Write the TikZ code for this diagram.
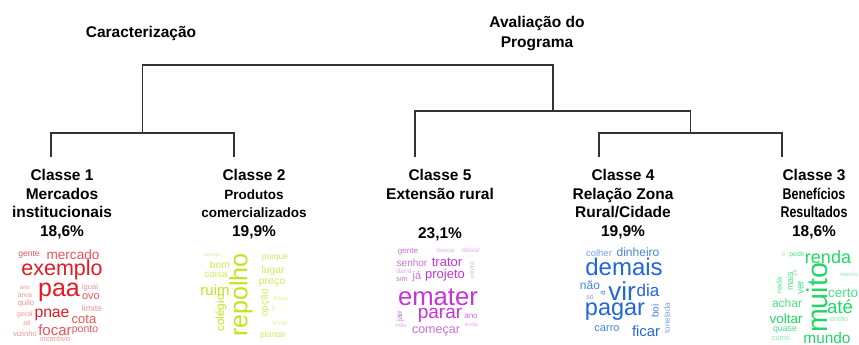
\documentclass[tikz,border=0pt]{standalone}
\usepackage{fontspec}
\setmainfont{Liberation Sans}
\usetikzlibrary{positioning}
\definecolor{rA}{RGB}{228,26,36}
\definecolor{rB}{RGB}{234,84,90}
\definecolor{rC}{RGB}{240,150,152}
\definecolor{yA}{RGB}{198,226,30}
\definecolor{yB}{RGB}{212,233,92}
\definecolor{yC}{RGB}{228,240,165}
\definecolor{mA}{RGB}{196,52,216}
\definecolor{mB}{RGB}{202,112,218}
\definecolor{mC}{RGB}{222,172,232}
\definecolor{bA}{RGB}{32,102,220}
\definecolor{bB}{RGB}{72,132,226}
\definecolor{bC}{RGB}{122,162,232}
\definecolor{gA}{RGB}{32,216,102}
\definecolor{gB}{RGB}{72,226,132}
\definecolor{gC}{RGB}{142,236,172}
\tikzstyle{hd}=[align=center, inner sep=0pt, font=\bfseries\fontsize{15.5}{20}\selectfont]
\tikzstyle{cl}=[align=center, inner sep=0pt, anchor=north, font=\bfseries\fontsize{15.5}{18.7}\selectfont]
\tikzstyle{wd}=[inner sep=0pt]
\tikzstyle{br}=[draw=black!80, line width=1.2pt]
\def\wfs#1{\fontsize{#1}{#1}\selectfont}
\def\sml#1{{\fontsize{13.5}{18.7}\selectfont #1}}
\def\nar#1{\scalebox{0.8}[1]{#1}}

\begin{document}
\begin{tikzpicture}[x=1pt, y=-1pt]
    \useasboundingbox [fill=white] (0,0) rectangle (859,345);

    \node [hd] (car) at (141,33) {Caracterização};
    \node [hd] (ava) at (537,34) {Avaliação do\\Programa};

    \coordinate (t1) at (51,157);
    \coordinate (t2) at (234,157);
    \coordinate (t5) at (415,157);
    \coordinate (t4) at (599,157);
    \coordinate (t3) at (782,157);
    \coordinate (m12) at (142.5,133);
    \coordinate (m43) at (690.5,133);
    \coordinate (m543) at (553,111);

    \draw [br] (t1) -- ++(0,-24) -| (t2);
    \draw [br] (t4) -- ++(0,-24) -| (t3);
    \draw [br] (t5) -- ++(0,-46) -| (m43);
    \draw [br] (m12) -- ++(0,-68) -| (m543);

    \node [cl] (c1) at (62,169)  {Classe 1\\Mercados\\institucionais\\18,6\%};
    \node [cl] (c2) at (254,169) {Classe 2\\\sml{Produtos}\\\sml{comercializados}\\19,9\%};
    \node [cl] (c5) at (440,169) {Classe 5\\Extensão rural\\[21pt]23,1\%};
    \node [cl] (c4) at (623,169) {Classe 4\\Relação Zona\\Rural/Cidade\\19,9\%};
    \node [cl] (c3) at (814,169) {Classe 3\\\nar{Benefícios}\\\nar{Resultados}\\18,6\%};

    % clouds: word/x/y/size/colour/angle
    \foreach \w/\x/\y/\s/\c/\r [count=\i] in {gente/29/255/8.5/rB/0, mercado/73/255/13.6/rB/0,
        exemplo/62/270/21.5/rA/0, paa/59/292/25/rA/0, ano/25/288/6/rC/0, área/25/295/7/rC/0,
        quilo/26/303/8/rC/0, geral/25/315/7/rC/0, ali/27/323/7/rC/0, vizinho/25/334/7.7/rC/0,
        igual/90/288/7.6/rC/0, ovo/91/297/11/rB/0, limite/92/308/8.6/rC/0, pnae/52/315/15.7/rA/0,
        cota/84/319/13/rB/0, focar/55/330/15/rB/0, ponto/85/330/10.5/rB/0, incentivo/55/339/7.6/rC/0}
      \node [wd, text=\c, font=\wfs{\s}, rotate=\r] (red\i) at (\x,\y) {\w};
    \foreach \w/\x/\y/\s/\c/\r [count=\i] in {laranja/212/255/5.5/yC/0, bom/220/265/10.3/yB/0,
        coisa/216/274/10/yB/0, ruim/215/290/15/yA/0, colégio/221/313/11.7/yA/90, repolho/241/295/25/yA/90,
        porque/275/258/8.4/yB/0, lugar/273/271/10.3/yB/0, preço/272/283/10.5/yB/0, opção/265/303/10/yB/90,
        feijão/281/299/6/yC/0, só/273/308/6/yC/90, levar/280/323/7/yC/0, plantar/273/335/8.5/yB/0}
      \node [wd, text=\c, font=\wfs{\s}, rotate=\r] (yel\i) at (\x,\y) {\w};
    \foreach \w/\x/\y/\s/\c/\r [count=\i] in {gente/408/252/8/mB/0, buscar/446/250/6/mC/0,
        deixar/471/250/6.6/mC/0, senhor/412/263/10/mB/0, trator/447/262/13/mA/0, daria/404/271/6.8/mC/0,
        sim/402/279/7.1/mB/0, já/417/277/11/mB/0, projeto/445/275/13/mA/0, contra/472/270/6/mC/90,
        emater/438/297/25.7/mA/0, parar/440/315/19/mA/0, jair/400/316/8/mB/90, mês/401/325/6/mC/0,
        ano/471/316/8/mB/0, ainda/471/325/5.5/mC/0, começar/436/331/12.5/mB/0}
      \node [wd, text=\c, font=\wfs{\s}, rotate=\r] (mag\i) at (\x,\y) {\w};
    \foreach \w/\x/\y/\s/\c/\r [count=\i] in {colher/599/253/9.5/bC/0, dinheiro/638/252/12/bB/0,
        demais/624/267/24/bA/0, não/590/285/12/bB/0, a/603/293/8/bB/90, só/590/297/7/bC/0,
        vir/622/291/26/bA/0, dia/648/290/17/bA/0, pagar/615/312/23.5/bA/0, boi/655/311/10/bB/90,
        tonelada/667/318/8/bC/90, carro/607/329/11/bB/0, ficar/646/331/14.8/bA/0}
      \node [wd, text=\c, font=\wfs{\s}, rotate=\r] (blu\i) at (\x,\y) {\w};
    \foreach \w/\x/\y/\s/\c/\r [count=\i] in {lá/783/255/5/gC/90, pedir/797/255/6.8/gB/0,
        renda/828/257/18/gA/0, menos/849/275/6/gC/0, nada/779/285/7.2/gB/90, mais/790/281/9/gB/90,
        ali/795/273/6/gC/90, ver/801/288/10/gB/90, muito/817/298/28.6/gA/90, certo/843/293/13.5/gB/0,
        até/840/307/18.7/gA/0, achar/787/303/12/gB/0, voltar/786/319/13.5/gA/0, então/839/319/7.2/gC/0,
        quase/785/330/8.8/gB/0, como/781/339/7.4/gC/0, mundo/827/338/15.4/gA/0}
      \node [wd, text=\c, font=\wfs{\s}, rotate=\r] (grn\i) at (\x,\y) {\w};

\end{tikzpicture}
\end{document}
